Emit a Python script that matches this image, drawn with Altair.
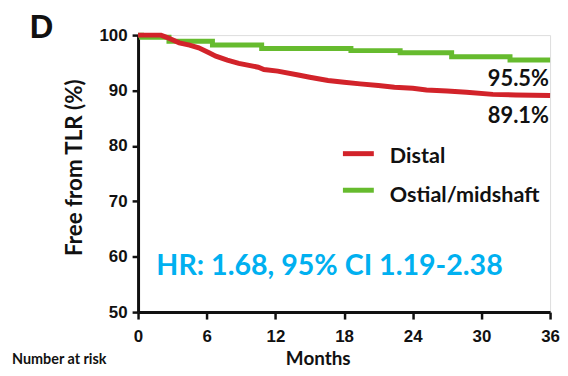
import altair as alt
import pandas as pd

# Kaplan-Meier curves
distal_months = [0, 2.0, 2.5, 3.6, 4.5, 5.3, 6.2, 6.8, 7.8, 8.8, 10.5, 11.0, 12.2, 14.0, 15.0,
                 16.6, 18.0, 19.4, 21.0, 22.4, 24.0, 25.2, 27.0, 28.7, 31.0, 33.0, 36.0]
distal_free = [100, 100, 99.6, 98.6, 98.2, 97.7, 96.8, 96.2, 95.5, 94.9, 94.2, 93.8, 93.5, 92.8, 92.4,
               91.8, 91.5, 91.2, 90.9, 90.6, 90.4, 90.1, 89.9, 89.7, 89.3, 89.2, 89.1]
ostial_months = [0, 0.3, 2.7, 6.5, 10.8, 18.6, 22.9, 27.4, 32.5, 36]
ostial_free = [100, 99.6, 98.9, 98.2, 97.6, 97.2, 96.8, 96.1, 95.5, 95.5]

groups = ["Distal", "Ostial/midshaft"]
colors = ["#d2232a", "#66bb2e"]
x_ticks = [0, 6, 12, 18, 24, 30, 36]
y_ticks = [50, 60, 70, 80, 90, 100]

end_labels = ["95.5%", "89.1%"]
end_label_x = [35.9, 35.9]
end_label_y = [90.8, 84.2]

legend_line_x = [17.9, 17.9]
legend_line_x2 = [20.6, 20.6]
legend_line_y = [78.6, 72.0]
legend_text_x = [22.0, 22.0]
legend_text_y = [77.0, 69.8]

hr_text = "HR: 1.68, 95% CI 1.19-2.38"
hr_x = 1.6
hr_y = 56.7

distal_df = pd.DataFrame({"month": distal_months, "free": distal_free, "group": groups[0]})
ostial_df = pd.DataFrame({"month": ostial_months, "free": ostial_free, "group": groups[1]})
legend_df = pd.DataFrame({"group": groups, "x": legend_line_x, "x2": legend_line_x2,
                          "y": legend_line_y, "tx": legend_text_x, "ty": legend_text_y})
end_df = pd.DataFrame({"label": end_labels, "x": end_label_x, "y": end_label_y})
hr_df = pd.DataFrame({"label": [hr_text], "x": [hr_x], "y": [hr_y]})

TXT = "Lato"
AX = "Liberation Sans"

xscale = alt.Scale(domain=[0, 36], nice=False)
yscale = alt.Scale(domain=[50, 100], nice=False)
cscale = alt.Scale(domain=groups, range=colors)

xaxis = alt.Axis(values=x_ticks, title="Months", titleFont=TXT, titleFontSize=19, titleFontWeight="bold",
                 titleColor="#111", titleX=181, titleY=53, titleBaseline="alphabetic", titleAlign="center",
                 labelFont=AX, labelFontSize=17, labelFontWeight="bold", labelColor="#111",
                 labelPadding=10, tickSize=7, tickWidth=2.5, tickColor="#111",
                 domainColor="#111", domainWidth=3, grid=False, labelFlush=False)
yaxis = alt.Axis(values=y_ticks, title="Free from TLR (%)", titleFont=TXT, titleFontSize=22.5,
                 titleFontWeight="bold", titleColor="#111", titleX=-64, titleY=133, titleAngle=270,
                 titleAlign="center", titleBaseline="middle",
                 labelFont=AX, labelFontSize=17, labelFontWeight="bold", labelColor="#111",
                 labelPadding=5, tickSize=6, tickWidth=2.5, tickColor="#111",
                 domainColor="#111", domainWidth=3, grid=False, labelFlush=False)

red_line = alt.Chart(distal_df).mark_line(interpolate="linear", strokeWidth=5).encode(
    x=alt.X("month:Q", scale=xscale, axis=xaxis),
    y=alt.Y("free:Q", scale=yscale, axis=yaxis),
    color=alt.Color("group:N", scale=cscale, legend=None),
)
green_line = alt.Chart(ostial_df).mark_line(interpolate="step-after", strokeWidth=5).encode(
    x=alt.X("month:Q", scale=xscale),
    y=alt.Y("free:Q", scale=yscale),
    color=alt.Color("group:N", scale=cscale, legend=None),
)

leg_lines = alt.Chart(legend_df).mark_rule(strokeWidth=5).encode(
    x="x:Q", x2="x2:Q", y="y:Q", color=alt.Color("group:N", scale=cscale, legend=None)
)
leg_text = alt.Chart(legend_df).mark_text(font=TXT, fontSize=21.7, fontWeight="bold", align="left",
                                          baseline="alphabetic", color="#111").encode(
    x="tx:Q", y="ty:Q", text="group:N"
)
end_text = alt.Chart(end_df).mark_text(font=TXT, fontSize=22, fontWeight="bold", align="right",
                                       baseline="alphabetic", color="#111").encode(
    x="x:Q", y="y:Q", text="label:N"
)
hr = alt.Chart(hr_df).mark_text(font=TXT, fontSize=28.8, fontWeight="bold", align="left",
                                baseline="alphabetic", color="#00b0f0").encode(
    x="x:Q", y="y:Q", text="label:N"
)
panel = alt.Chart(pd.DataFrame({"t": ["D"]})).mark_text(
    font=AX, fontSize=33, fontWeight="bold", align="left", baseline="alphabetic", color="#111"
).encode(x=alt.value(-109), y=alt.value(3), text="t:N")
risk = alt.Chart(pd.DataFrame({"t": ["Number at risk"]})).mark_text(
    font=TXT, fontSize=14.5, fontWeight="bold", align="left", baseline="alphabetic", color="#111"
).encode(x=alt.value(-127), y=alt.value(331), text="t:N")

chart = alt.layer(green_line, red_line, leg_lines, leg_text, end_text, hr, panel, risk).properties(
    width=415, height=279,
    autosize=alt.AutoSizeParams(type="none"),
    padding={"left": 131, "top": 26, "right": 10, "bottom": 55},
).configure_view(stroke=None).configure(background="white")

chart.save("out.html", embed_options={"renderer": "svg", "actions": False})
